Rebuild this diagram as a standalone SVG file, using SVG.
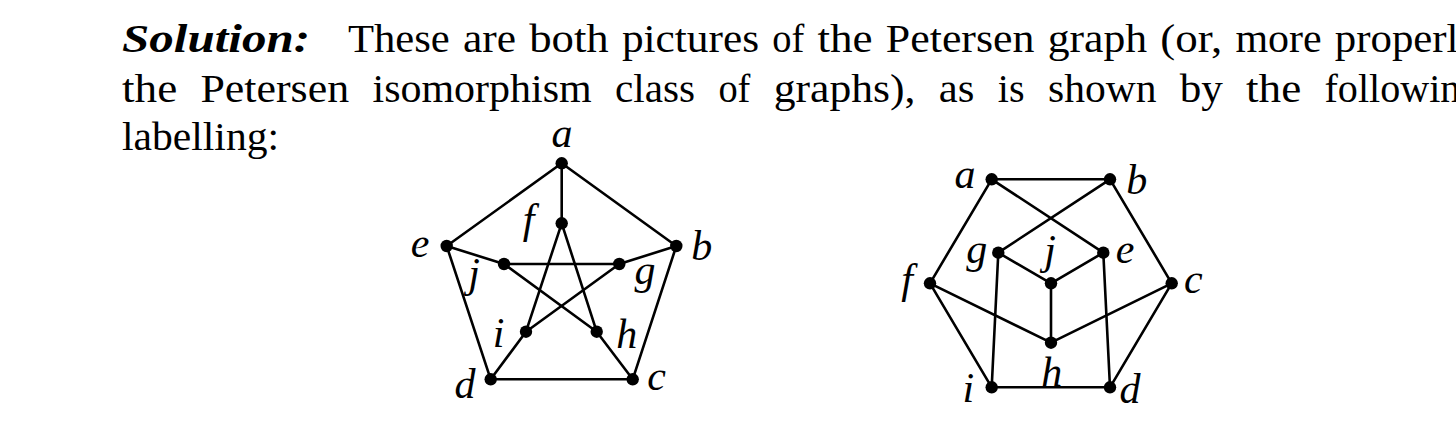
<svg xmlns="http://www.w3.org/2000/svg" width="1456" height="438" viewBox="0 0 1456 438">
<style>
.t{font-family:"Liberation Serif","Times New Roman",serif;font-size:41px;fill:#000}
.b{font-weight:bold;font-style:italic}
.m{font-family:"Liberation Serif","Times New Roman",serif;font-size:42px;font-style:italic;fill:#000;text-anchor:middle}
.e line{stroke:#000;stroke-width:2.6;stroke-linecap:round}
.n circle{fill:#000}
</style>
<rect width="1456" height="438" fill="#fff"/>
<g id="paragraph" class="t">
<text x="122" y="51.5" class="b" textLength="188" lengthAdjust="spacingAndGlyphs">Solution:</text>
<text x="348" y="51.5" textLength="101.8" lengthAdjust="spacingAndGlyphs">These</text>
<text x="463" y="51.5" textLength="53" lengthAdjust="spacingAndGlyphs">are</text>
<text x="529.2" y="51.5" textLength="79.5" lengthAdjust="spacingAndGlyphs">both</text>
<text x="621.9" y="51.5" textLength="137.1" lengthAdjust="spacingAndGlyphs">pictures</text>
<text x="772.2" y="51.5" textLength="32" lengthAdjust="spacingAndGlyphs">of</text>
<text x="817.4" y="51.5" textLength="55.2" lengthAdjust="spacingAndGlyphs">the</text>
<text x="885.8" y="51.5" textLength="148.7" lengthAdjust="spacingAndGlyphs">Petersen</text>
<text x="1047.7" y="51.5" textLength="99.4" lengthAdjust="spacingAndGlyphs">graph</text>
<text x="1160.3" y="51.5" textLength="61.9" lengthAdjust="spacingAndGlyphs">(or,</text>
<text x="1235.4" y="51.5" textLength="86.2" lengthAdjust="spacingAndGlyphs">more</text>
<text x="1334.8" y="51.5" textLength="123.7" lengthAdjust="spacingAndGlyphs">properl</text>
<text x="122" y="101.5" textLength="55.2" lengthAdjust="spacingAndGlyphs">the</text>
<text x="200.4" y="101.5" textLength="148.7" lengthAdjust="spacingAndGlyphs">Petersen</text>
<text x="372.5" y="101.5" textLength="219.1" lengthAdjust="spacingAndGlyphs">isomorphism</text>
<text x="615" y="101.5" textLength="79.9" lengthAdjust="spacingAndGlyphs">class</text>
<text x="718.4" y="101.5" textLength="32" lengthAdjust="spacingAndGlyphs">of</text>
<text x="773.8" y="101.5" textLength="141.6" lengthAdjust="spacingAndGlyphs">graphs),</text>
<text x="938.8" y="101.5" textLength="35.6" lengthAdjust="spacingAndGlyphs">as</text>
<text x="997.8" y="101.5" textLength="26.7" lengthAdjust="spacingAndGlyphs">is</text>
<text x="1048" y="101.5" textLength="108.4" lengthAdjust="spacingAndGlyphs">shown</text>
<text x="1179.7" y="101.5" textLength="43.1" lengthAdjust="spacingAndGlyphs">by</text>
<text x="1246" y="101.5" textLength="55.2" lengthAdjust="spacingAndGlyphs">the</text>
<text x="1324.5" y="101.5" textLength="135.8" lengthAdjust="spacingAndGlyphs">followin</text>
<text x="122" y="150" textLength="157" lengthAdjust="spacingAndGlyphs">labelling:</text>
</g>

<!-- Left graph -->
<g id="left-connectors" class="e">
<line x1="561.7" y1="163.3" x2="446.7" y2="246"/>
<line x1="561.7" y1="163.3" x2="676.3" y2="246"/>
<line x1="561.7" y1="163.3" x2="561.7" y2="223.3"/>
<line x1="446.7" y1="246" x2="504" y2="264"/>
<line x1="446.7" y1="246" x2="490.7" y2="379.3"/>
<line x1="676.3" y1="246" x2="619.3" y2="264"/>
<line x1="676.3" y1="246" x2="632.7" y2="379.3"/>
<line x1="490.7" y1="379.3" x2="632.7" y2="379.3"/>
<line x1="504" y1="264" x2="619.3" y2="264"/>
<line x1="561.7" y1="223.3" x2="526" y2="331.7"/>
<line x1="561.7" y1="223.3" x2="596.7" y2="331.7"/>
<line x1="504" y1="264" x2="596.7" y2="331.7"/>
<line x1="619.3" y1="264" x2="526" y2="331.7"/>
<line x1="526" y1="331.7" x2="490.7" y2="379.3"/>
<line x1="596.7" y1="331.7" x2="632.7" y2="379.3"/>
</g>
<g id="L-a" class="n"><circle cx="561.7" cy="163.3" r="6.2"/><text class="m" x="562" y="147">a</text></g>
<g id="L-f" class="n"><circle cx="561.7" cy="223.3" r="6.2"/><text class="m" x="528.5" y="233">f</text></g>
<g id="L-e" class="n"><circle cx="446.7" cy="246" r="6.2"/><text class="m" x="420" y="256.5">e</text></g>
<g id="L-b" class="n"><circle cx="676.3" cy="246" r="6.2"/><text class="m" x="701.7" y="260">b</text></g>
<g id="L-j" class="n"><circle cx="504" cy="264" r="6.2"/><text class="m" x="474" y="287">j</text></g>
<g id="L-g" class="n"><circle cx="619.3" cy="264" r="6.2"/><text class="m" x="645" y="284">g</text></g>
<g id="L-i" class="n"><circle cx="526" cy="331.7" r="6.2"/><text class="m" x="498.5" y="346.5">i</text></g>
<g id="L-h" class="n"><circle cx="596.7" cy="331.7" r="6.2"/><text class="m" x="626.7" y="348">h</text></g>
<g id="L-d" class="n"><circle cx="490.7" cy="379.3" r="6.2"/><text class="m" x="465" y="398">d</text></g>
<g id="L-c" class="n"><circle cx="632.7" cy="379.3" r="6.2"/><text class="m" x="656.7" y="390">c</text></g>

<!-- Right graph -->
<g id="right-connectors" class="e">
<line x1="991.7" y1="179.3" x2="1110" y2="179.3"/>
<line x1="991.7" y1="179.3" x2="930" y2="283.3"/>
<line x1="991.7" y1="179.3" x2="1103.3" y2="252.7"/>
<line x1="1110" y1="179.3" x2="998.3" y2="252.7"/>
<line x1="1110" y1="179.3" x2="1171.7" y2="283.3"/>
<line x1="998.3" y1="252.7" x2="1051" y2="283.3"/>
<line x1="1103.3" y1="252.7" x2="1051" y2="283.3"/>
<line x1="1051" y1="283.3" x2="1051" y2="342.7"/>
<line x1="998.3" y1="252.7" x2="991.7" y2="387.3"/>
<line x1="1103.3" y1="252.7" x2="1110" y2="387.3"/>
<line x1="930" y1="283.3" x2="1051" y2="342.7"/>
<line x1="1171.7" y1="283.3" x2="1051" y2="342.7"/>
<line x1="930" y1="283.3" x2="991.7" y2="387.3"/>
<line x1="1171.7" y1="283.3" x2="1110" y2="387.3"/>
<line x1="991.7" y1="387.3" x2="1110" y2="387.3"/>
</g>
<g id="R-a" class="n"><circle cx="991.7" cy="179.3" r="6.2"/><text class="m" x="965" y="188.3">a</text></g>
<g id="R-b" class="n"><circle cx="1110" cy="179.3" r="6.2"/><text class="m" x="1136.7" y="194">b</text></g>
<g id="R-g" class="n"><circle cx="998.3" cy="252.7" r="6.2"/><text class="m" x="976.7" y="263">g</text></g>
<g id="R-j" class="n"><circle cx="1051" cy="283.3" r="6.2"/><text class="m" x="1050" y="264">j</text></g>
<g id="R-e" class="n"><circle cx="1103.3" cy="252.7" r="6.2"/><text class="m" x="1125" y="263.3">e</text></g>
<g id="R-f" class="n"><circle cx="930" cy="283.3" r="6.2"/><text class="m" x="907" y="293">f</text></g>
<g id="R-c" class="n"><circle cx="1171.7" cy="283.3" r="6.2"/><text class="m" x="1193.3" y="293">c</text></g>
<g id="R-h" class="n"><circle cx="1051" cy="342.7" r="6.2"/><text class="m" x="1051.7" y="386">h</text></g>
<g id="R-i" class="n"><circle cx="991.7" cy="387.3" r="6.2"/><text class="m" x="968.3" y="401.5">i</text></g>
<g id="R-d" class="n"><circle cx="1110" cy="387.3" r="6.2"/><text class="m" x="1130" y="403">d</text></g>
</svg>
